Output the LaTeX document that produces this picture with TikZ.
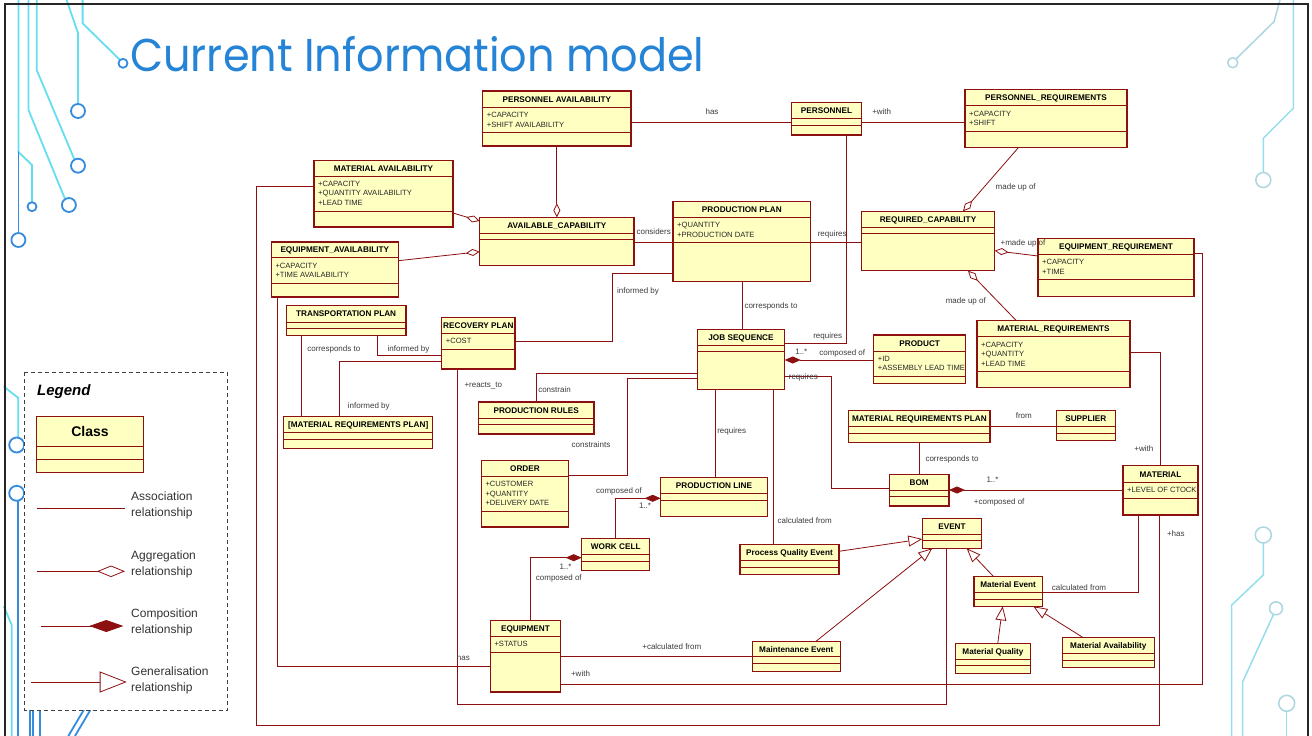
\documentclass[tikz,border=0pt]{standalone}
\usepackage{fontspec}
\setmainfont{Liberation Sans}
\IfFontExistsTF{Poppins-Light.otf}
  {\newfontfamily\titlefont[FakeStretch=0.935]{Poppins-Light.otf}}
  {\newfontfamily\titlefont[FakeStretch=0.935]{Poppins}}
\usetikzlibrary{arrows.meta}

\definecolor{umlred}{RGB}{140,16,16}
\definecolor{umlfill}{RGB}{255,255,194}
\definecolor{labelgray}{RGB}{60,60,60}
\definecolor{titleblue}{RGB}{38,132,214}
\definecolor{tracecyan}{RGB}{100,222,240}
\definecolor{traceblue}{RGB}{52,140,222}
\definecolor{tracepale}{RGB}{172,214,224}
\definecolor{tracelight}{RGB}{150,222,238}

\tikzset{
  classbox/.style={draw=umlred, fill=umlfill, line width=1.1pt, inner sep=0pt,
    outer sep=0pt, anchor=north west, rectangle},
  classrule/.style={draw=umlred, line width=0.9pt},
  classname/.style={font=\fontsize{8.2}{9}\selectfont\bfseries, text=black,
    inner sep=0pt, anchor=base},
  attr/.style={font=\fontsize{7.6}{9}\selectfont, text=black!85, inner sep=0pt,
    anchor=base west},
  conn/.style={draw=umlred, line width=0.8pt},
  lbl/.style={font=\fontsize{8}{9}\selectfont, text=labelgray, inner sep=0pt},
  aggr/.style={conn, -{Diamond[open, fill=white, length=14pt, width=7pt]}},
  comp/.style={conn, -{Diamond[fill=umlred, length=16pt, width=7pt]}},
  gen/.style={conn, -{Triangle[open, fill=white, length=14pt, width=11pt]}},
  trace/.style={line width=1.8pt, line cap=round, line join=round},
  legtext/.style={font=\fontsize{12}{16}\selectfont, text=black!80, align=left,
    inner sep=0pt, anchor=west},
}

% \umlclass{id}{x1}{y1}{x2}{y2}{first rule}{second rule}{name}
\newcommand{\umlclass}[8]{%
  \node[classbox, minimum width={(#4-#2)*1pt}, minimum height={(#5-#3)*1pt}] (#1) at (#2,#3) {};
  \draw[classrule] (#2,#6) -- (#4,#6) (#2,#7) -- (#4,#7);
  \node[classname] (#1-name) at ({(#2+#4)/2},{(#3+#6)/2+3}) {#8};
}
% \umlattrs{id}{x1}{first rule}{list of attributes}
\newcommand{\umlattrs}[4]{%
  \foreach \a [count=\i] in {#4} {
    \node[attr] (#1-attr\i) at ({#2+4},{#3+10.3+(\i-1)*9.5}) {\a};
  }
}

\begin{document}
\begin{tikzpicture}[x=1pt,y=-1pt]
\useasboundingbox (0,0) rectangle (1312,736);
\clip (0,0) rectangle (1312,736);
\fill[white] (0,0) rectangle (1312,736);

% ---------- circuit traces, left edge ----------
\begin{scope}[trace]
  \draw[tracecyan] (18.4,0) -- (18.4,152) -- (32,165) -- (32,202.2);
  \draw[traceblue] (32,206.7) circle[radius=4.5];
  \draw[traceblue] (18.4,152) -- (18.4,233);
  \draw[traceblue] (18.4,240) circle[radius=7];
  \draw[tracecyan] (28.5,0) -- (28.5,110) -- (64.6,198);
  \draw[traceblue] (68.9,205) circle[radius=7];
  \draw[tracecyan] (36.7,0) -- (36.7,70) -- (74,158.5);
  \draw[traceblue] (78,165.7) circle[radius=7];
  \draw[tracecyan] (66.6,0) -- (78,33) -- (78,104);
  \draw[traceblue] (78,111) circle[radius=7];
  \draw[tracecyan] (82.6,0) -- (82.6,23.3) -- (119.6,59.6);
  \draw[traceblue] (123,63.3) circle[radius=4.5];
  \draw[tracecyan] (4,386.7) -- (18.3,398) -- (18.3,437.5);
  \draw[traceblue] (16.7,445) circle[radius=7.5];
  \draw[traceblue] (16.7,493.3) circle[radius=7.5];
  \draw[traceblue] (18.3,500.8) -- (18.3,736);
  \draw[tracecyan] (4,606.7) -- (11.7,625) -- (11.7,736);
  \draw[traceblue] (30,705) -- (30,736) (33.3,705) -- (33.3,736) (40,705) -- (40,736);
  \draw[traceblue] (68.3,736) -- (86.7,705) (75,736) -- (93.3,705);
\end{scope}

% ---------- circuit traces, right edge ----------
\begin{scope}[trace, line width=1.5pt]
  \draw[tracepale] (1280,0) -- (1274,21.7) -- (1236.5,58.5);
  \draw[tracepale] (1232.7,62.7) circle[radius=5];
  \draw[tracelight] (1293.3,0) -- (1293.3,108.3) -- (1263.3,138.3) -- (1263.3,172.5);
  \draw[tracepale] (1263.3,180) circle[radius=7.5];
  \draw[tracepale] (1263.3,535) circle[radius=8];
  \draw[tracelight] (1263.3,543) -- (1263.3,575) -- (1231.7,605) -- (1231.7,736);
  \draw[tracepale] (1276,608.3) circle[radius=6.5];
  \draw[tracelight] (1273.5,614.5) -- (1242.7,681.7) -- (1242.7,736);
  \draw[tracepale] (1286.7,703.3) circle[radius=8];
  \draw[tracelight] (1286.7,711.3) -- (1286.7,736);
\end{scope}

% slide frame
\draw[line width=2pt, black!85] (4.5,740) -- (4.5,3.5) -- (1307.5,3.5) -- (1307.5,740);

% title
\node[anchor=base west, inner sep=0pt, text=titleblue,
      font=\titlefont\fontsize{46}{50}\selectfont] (title) at (130,71) {Current Information model};

% ---------- classes ----------
\umlclass{pa}{482.7}{91}{631}{146}{107.3}{132.7}{PERSONNEL AVAILABILITY}
\umlattrs{pa}{482.7}{107.3}{+CAPACITY,+SHIFT AVAILABILITY}
\umlclass{personnel}{791.7}{102.7}{861.3}{135}{118.7}{125.3}{PERSONNEL}
\umlclass{preq}{965}{89.7}{1127}{147.7}{105.7}{131.3}{PERSONNEL\_REQUIREMENTS}
\umlattrs{preq}{965}{105.7}{+CAPACITY,+SHIFT}
\umlclass{mav}{314}{160.3}{453}{227}{176}{211.7}{MATERIAL AVAILABILITY}
\umlattrs{mav}{314}{176}{+CAPACITY,+QUANTITY AVAILABILITY,+LEAD TIME}
\umlclass{ac}{479.7}{217.3}{634}{265.7}{233.7}{239.3}{AVAILABLE\_CAPABILITY}
\umlclass{eav}{271.3}{242}{398.3}{297}{257.7}{283.3}{EQUIPMENT\_AVAILABILITY}
\umlattrs{eav}{271.3}{257.7}{+CAPACITY,+TIME AVAILABILITY}
\umlclass{pp}{673}{201.3}{810.7}{281.7}{217.3}{242.3}{PRODUCTION PLAN}
\umlattrs{pp}{673}{217.3}{+QUANTITY,+PRODUCTION DATE}
\umlclass{rc}{861.3}{211.3}{994.7}{270.7}{227.3}{233.3}{REQUIRED\_CAPABILITY}
\umlclass{ereq}{1038}{238.7}{1194}{296.3}{254.3}{279.3}{EQUIPMENT\_REQUIREMENT}
\umlattrs{ereq}{1038}{254.3}{+CAPACITY,+TIME}
\umlclass{tp}{286.3}{305.7}{406}{335.3}{322}{328.3}{TRANSPORTATION PLAN}
\umlclass{rp}{441.7}{317.3}{515}{369}{333.3}{349.3}{RECOVERY PLAN}
\umlattrs{rp}{441.7}{333.3}{+COST}
\umlclass{mrpb}{283.7}{416.3}{432.7}{448.3}{432.7}{439}{[MATERIAL REQUIREMENTS PLAN]}
\umlclass{prules}{478.3}{402}{594}{434}{418}{424.3}{PRODUCTION RULES}
\umlclass{js}{697.3}{329.3}{784.7}{389.3}{345.3}{351.7}{JOB SEQUENCE}
\umlclass{product}{873.7}{335}{965.7}{383.7}{351}{376.3}{PRODUCT}
\umlattrs{product}{873.7}{351}{+ID,+ASSEMBLY LEAD TIME}
\umlclass{mreq}{977}{320.3}{1130}{387.3}{336.7}{371}{MATERIAL\_REQUIREMENTS}
\umlattrs{mreq}{977}{336.7}{+CAPACITY,+QUANTITY,+LEAD TIME}
\umlclass{mrp}{848.7}{410.7}{990}{442.7}{426}{433.3}{MATERIAL REQUIREMENTS PLAN}
\umlclass{supplier}{1056.3}{410.7}{1115.3}{440.7}{426}{433.3}{SUPPLIER}
\umlclass{order}{481.3}{460.3}{568.7}{527}{476.3}{511.3}{ORDER}
\umlattrs{order}{481.3}{476.3}{+CUSTOMER,+QUANTITY,+DELIVERY DATE}
\umlclass{pline}{660.7}{477.7}{767.3}{516.7}{493.3}{500.3}{PRODUCTION LINE}
\umlclass{bom}{889.3}{474.3}{949}{506}{490.3}{496.7}{BOM}
\umlclass{material}{1123}{465.7}{1198}{515}{482.3}{498}{MATERIAL}
\umlattrs{material}{1123}{482.3}{+LEVEL OF CTOCK}
\umlclass{wcell}{581.7}{538.7}{649.7}{570.7}{554.3}{561.3}{WORK CELL}
\umlclass{event}{922.3}{518.3}{981.7}{548.3}{534.3}{540.7}{EVENT}
\umlclass{pqe}{740}{544.3}{839}{574.3}{560}{567.3}{Process Quality Event}
\umlclass{mevent}{974}{576.3}{1042.3}{606.3}{592}{599}{Material Event}
\umlclass{equip}{490.3}{620.3}{560.7}{692}{636.3}{652.3}{EQUIPMENT}
\umlattrs{equip}{490.3}{636.3}{+STATUS}
\umlclass{maint}{752.3}{641.3}{840.3}{671.3}{656.7}{663.7}{Maintenance Event}
\umlclass{mqual}{955.7}{643.7}{1030.3}{673.3}{659.3}{665.3}{Material Quality}
\umlclass{mavail}{1062.3}{637.7}{1154.3}{667.7}{653.3}{660.3}{Material Availability}

% ---------- relationships ----------
\draw[conn] (pa.east |- 0,122.3) -- (personnel.west |- 0,122.3);
\draw[conn] (personnel.east |- 0,122.3) -- (preq.west |- 0,122.3);
\draw[conn] (846.3,0 |- personnel.south) -- (846.3,343.3) -- (js.east |- 0,343.3);
\draw[aggr] (pa.south) -- (ac.north);
\draw[aggr] (mav.east |- 0,213) -- (ac.west |- 0,221);
\draw[aggr] (eav.east |- 0,260.7) -- (ac.west |- 0,251.7);
\draw[conn] (ac.east |- 0,242) -- (pp.west |- 0,242);
\draw[conn] (pp.east |- 0,242) -- (rc.west |- 0,242);
\draw[aggr] (1018.3,0 |- preq.south) -- (963,0 |- rc.north);
\draw[aggr] (ereq.west |- 0,256) -- (rc.east |- 0,250.7);
\draw[aggr] (1016,0 |- mreq.north) -- (968,0 |- rc.south);
\draw[conn] (ereq.east |- 0,253.7) -- (1202.3,253.7) -- (1202.3,684.3) -- (equip.east |- 0,684.3);
\draw[conn] (mav.west |- 0,186.3) -- (256.7,186.3) -- (256.7,725) -- (1159.7,725) -- (1159.7,0 |- material.south);
\draw[conn] (277.3,0 |- eav.south) -- (277.3,666.7) -- (equip.west |- 0,666.7);
\draw[conn] (pp.west |- 0,273.7) -- (612.3,273.7) -- (612.3,341) -- (rp.east |- 0,341);
\draw[conn] (742.3,0 |- pp.south) -- (742.3,0 |- js.north);
\draw[conn] (301.7,0 |- tp.south) -- (301.7,0 |- mrpb.north);
\draw[conn] (377.7,0 |- tp.south) -- (377.7,355) -- (rp.west |- 0,355);
\draw[conn] (339.7,0 |- mrpb.north) -- (339.7,361) -- (rp.west |- 0,361);
\draw[conn] (457,0 |- rp.south) -- (457,704.7) -- (946.7,704.7) -- (946.7,0 |- event.south);
\draw[conn] (js.west |- 0,373) -- (536,373) -- (536,0 |- prules.north);
\draw[conn] (js.west |- 0,378.3) -- (627.3,378.3) -- (627.3,475) -- (order.east |- 0,475);
\draw[comp] (product.west |- 0,360) -- (js.east |- 0,360);
\draw[conn] (js.east |- 0,376) -- (831.3,376) -- (831.3,488) -- (bom.west |- 0,488);
\draw[conn] (715.7,0 |- js.south) -- (715.7,0 |- pline.north);
\draw[conn] (773.3,0 |- js.south) -- (773.3,0 |- pqe.north);
\draw[conn] (mreq.east |- 0,352.3) -- (1160,352.3) -- (1160,0 |- material.north);
\draw[conn] (mrp.east |- 0,426) -- (supplier.west |- 0,426);
\draw[conn] (919.3,0 |- mrp.south) -- (919.3,0 |- bom.north);
\draw[comp] (material.west |- 0,490) -- (bom.east |- 0,490);
\draw[comp] (615.7,0 |- wcell.north) -- (615.7,498.3) -- (pline.west |- 0,498.3);
\draw[comp] (530,0 |- equip.north) -- (530,557.7) -- (wcell.west |- 0,557.7);
\draw[conn] (equip.east |- 0,656.7) -- (maint.west |- 0,656.7);
\draw[gen] (pqe.east |- 0,551.3) -- (event.west |- 0,539);
\draw[gen] (816,0 |- maint.north) -- (932.3,0 |- event.south);
\draw[gen] (993.3,0 |- mevent.north) -- (966.7,0 |- event.south);
\draw[conn] (mevent.east |- 0,592) -- (1138.3,592) -- (1138.3,0 |- material.south);
\draw[gen] (997.7,0 |- mqual.north) -- (1002.7,0 |- mevent.south);
\draw[gen] (1083.3,0 |- mavail.north) -- (1033.3,0 |- mevent.south);

% ---------- relationship labels ----------
\node[lbl] (l1) at (712,112) {has};
\node[lbl] (l2) at (881.7,112) {+with};
\node[lbl] (l3) at (827.7,336) {requires};
\node[lbl] (l4) at (653.7,232) {considers};
\node[lbl] (l5) at (832.2,234.3) {requires};
\node[lbl] (l6) at (1015.7,187) {made up of};
\node[lbl] (l7) at (1023,243) {+made up of};
\node[lbl] (l8) at (965.8,301) {made up of};
\node[lbl] (l9) at (638,291) {informed by};
\node[lbl] (l10) at (771,306) {corresponds to};
\node[lbl] (l11) at (333.8,349.3) {corresponds to};
\node[lbl] (l12) at (408.5,349.3) {informed by};
\node[lbl] (l13) at (368.8,406.3) {informed by};
\node[lbl] (l14) at (483.3,386) {+reacts\_to};
\node[lbl] (l15) at (554.5,390) {constrain};
\node[lbl] (l16) at (591,445) {constraints};
\node[lbl] (l17) at (801.3,351.7) {1..*};
\node[lbl] (l18) at (842.2,353.3) {composed of};
\node[lbl] (l19) at (803.3,377.3) {requires};
\node[lbl] (l20) at (731.7,431.3) {requires};
\node[lbl] (l21) at (804.7,521) {calculated from};
\node[lbl] (l22) at (1023.8,416) {from};
\node[lbl] (l23) at (952,459) {corresponds to};
\node[lbl] (l24) at (1143.8,449) {+with};
\node[lbl] (l25) at (992.5,480) {1..*};
\node[lbl] (l26) at (999.2,502) {+composed of};
\node[lbl] (l27) at (619,491.3) {composed of};
\node[lbl] (l28) at (645,505.5) {1..*};
\node[lbl] (l29) at (565.5,567) {1..*};
\node[lbl] (l30) at (558.8,578) {composed of};
\node[lbl] (l31) at (671.8,647) {+calculated from};
\node[lbl] (l32) at (463.3,658) {has};
\node[lbl] (l33) at (580.5,674) {+with};
\node[lbl] (l34) at (1175.8,534) {+has};
\node[lbl] (l35) at (1079,587.3) {calculated from};

% ---------- legend ----------
\draw[black!75, line width=1pt, dash pattern=on 4pt off 3pt, fill=white]
  (24.3,372.3) rectangle (227.3,710);
\node[anchor=base west, inner sep=0pt, font=\fontsize{15}{17}\selectfont\bfseries\itshape]
  (legtitle) at (37,395.5) {Legend};
\node[classbox, minimum width=106.6pt, minimum height=56pt] (legclass) at (36.7,416.7) {};
\draw[classrule] (36.7,446.7) -- (143.3,446.7) (36.7,459) -- (143.3,459);
\node[font=\fontsize{14}{16}\selectfont\bfseries, inner sep=0pt, anchor=base]
  (legclassname) at (90,436.5) {Class};

\coordinate (la1) at (36.7,508.7);  \coordinate (la2) at (125,508.7);
\draw[conn] (la1) -- (la2);
\node[legtext] (lt1) at (131,505.7) {Association\\relationship};

\coordinate (lg1) at (36.7,571.3);  \coordinate (lg2) at (125,571.3);
\draw[conn, -{Diamond[open, fill=white, length=28pt, width=11.5pt]}] (lg1) -- (lg2);
\node[legtext] (lt2) at (131,564) {Aggregation\\relationship};

\coordinate (lc1) at (41.3,626);  \coordinate (lc2) at (123.3,626);
\draw[conn, -{Diamond[fill=umlred, length=34pt, width=12pt]}] (lc1) -- (lc2);
\node[legtext] (lt3) at (131,622) {Composition\\relationship};

\coordinate (lz1) at (30.7,682);  \coordinate (lz2) at (126.7,682);
\draw[conn, -{Triangle[open, fill=white, length=27pt, width=21pt]}] (lz1) -- (lz2);
\node[legtext] (lt4) at (131,680.7) {Generalisation\\relationship};

\end{tikzpicture}
\end{document}
